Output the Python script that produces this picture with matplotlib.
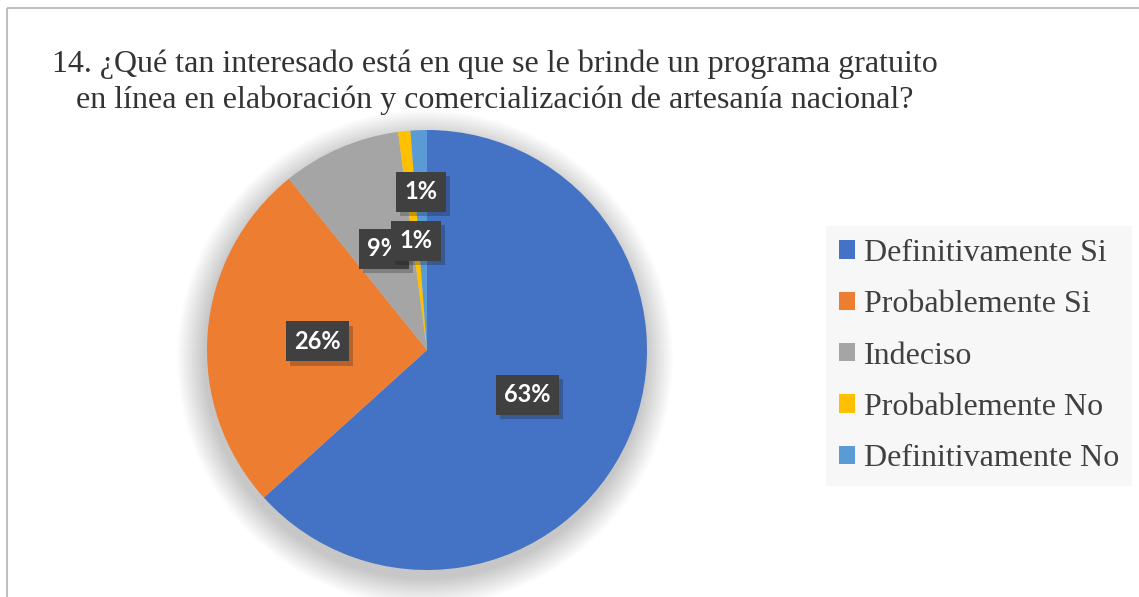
import matplotlib
matplotlib.use('Agg')
import matplotlib.pyplot as plt
from matplotlib.patches import Circle
import matplotlib.patheffects as pe
import numpy as np

categories = ['Definitivamente Si', 'Probablemente Si', 'Indeciso',
              'Probablemente No', 'Definitivamente No']
values = [63.3, 25.9, 8.7, 0.9, 1.2]
colors = ['#4472C4', '#ED7D31', '#A5A5A5', '#FFC000', '#5B9BD5']
title = ('14. ¿Qué tan interesado está en que se le brinde un programa gratuito\n'
         'en línea en elaboración y comercialización de artesanía nacional?')

W, H = 1139, 597
fig = plt.figure(figsize=(W / 100, H / 100), dpi=100)
fig.patch.set_facecolor('white')
ax = fig.add_axes([0, 0, 1, 1])

cx, cy, r = 427, H - 350, 220

# soft shadow under the pie
for k in range(28):
    ax.add_patch(Circle((cx - 2, cy - 8), r + 28 - k, color='black',
                        alpha=0.008, lw=0, zorder=0))

wedges, texts, autotexts = ax.pie(
    values, colors=colors, startangle=90, counterclock=False,
    radius=r, center=(cx, cy),
    autopct=lambda p: f'{p:.0f}%', pctdistance=0.5,
    wedgeprops=dict(linewidth=0),
    textprops=dict(color='white', fontsize=17, fontweight='bold',
                   family='Lato'))

# move the last small label outward like the original
w = wedges[-1]
mid = np.deg2rad((w.theta1 + w.theta2) / 2)
autotexts[-1].set_position((cx + 0.72 * r * np.cos(mid), cy + 0.72 * r * np.sin(mid)))

for t in autotexts:
    t.set_bbox(dict(boxstyle='square,pad=0.36', facecolor='#404040',
                    edgecolor='none'))
    t.get_bbox_patch().set_path_effects(
        [pe.SimplePatchShadow(offset=(3, -3), alpha=0.25), pe.Normal()])
    t.set_zorder(5)

ax.set_xlim(0, W)
ax.set_ylim(0, H)
ax.set_aspect('auto')
ax.axis('off')

# title
ax.text(495, H - 82, title, ha='center', va='center', multialignment='center',
        fontsize=23, family='Liberation Serif', color='#333333',
        linespacing=1.28)

# chart border (cropped)
ax.plot([7, 7], [0, H - 8], color='#bfbfbf', lw=1.5, solid_capstyle='butt')
ax.plot([7, W], [H - 8, H - 8], color='#bfbfbf', lw=1.5, solid_capstyle='butt')

leg = ax.legend(wedges, categories, loc='upper left',
                bbox_to_anchor=(826 / W, 1 - 226 / H), borderaxespad=0,
                frameon=True, fancybox=False, framealpha=1,
                facecolor='#f7f7f7', edgecolor='none',
                prop=dict(family='Liberation Serif', size=23),
                handlelength=0.5, handleheight=0.5, handletextpad=0.3,
                labelspacing=0.7, borderpad=0.4)
for t in leg.get_texts():
    t.set_color('#404040')

fig.savefig('out.png', dpi=100, facecolor='white')
